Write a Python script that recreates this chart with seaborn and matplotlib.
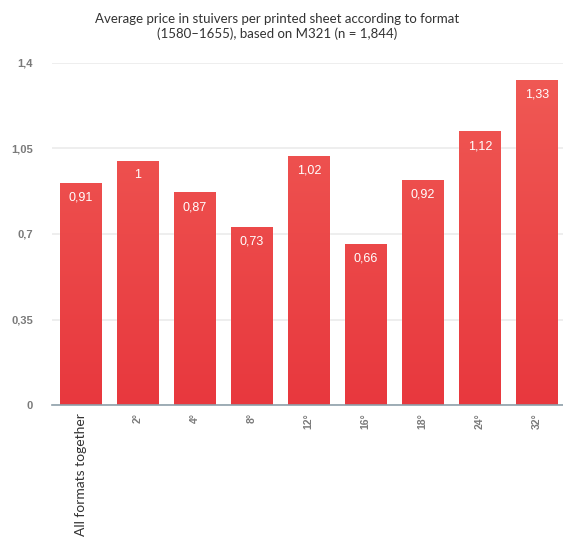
import numpy as np
import pandas as pd
import seaborn as sns
import matplotlib
matplotlib.use("Agg")
import matplotlib.pyplot as plt
from matplotlib.colors import LinearSegmentedColormap

categories = ["All formats together", "2°", "4°", "8°", "12°", "16°", "18°", "24°", "32°"]
values = [0.91, 1.00, 0.87, 0.73, 1.02, 0.66, 0.92, 1.12, 1.33]
value_labels = ["0,91", "1", "0,87", "0,73", "1,02", "0,66", "0,92", "1,12", "1,33"]
yticks = [0, 0.35, 0.7, 1.05, 1.4]
ytick_labels = ["0", "0,35", "0,7", "1,05", "1,4"]
title = "Average price in stuivers per printed sheet according to format\n(1580\u20131655), based on M321 (n = 1,844)"

sns.set_theme(style="white")
fig = plt.figure(figsize=(5.63, 5.37), dpi=100)
ax = fig.add_axes([0.093, 0.2458, 0.907, 0.6369])

df = pd.DataFrame({"format": categories, "price": values})
sns.barplot(data=df, x="format", y="price", ax=ax, color="#ec4a4a", width=0.72,
            saturation=1, zorder=3)

XLIM = (-0.5, 8.46)

# gradient fill on bars
cmap = LinearSegmentedColormap.from_list("g", ["#e8383e", "#f05a55"])
grad = np.linspace(0, 1, 256).reshape(-1, 1)
for p in ax.patches:
    x0 = p.get_x()
    w = p.get_width()
    im = ax.imshow(grad, extent=[x0, x0 + w, 0, 1.4], origin="lower", cmap=cmap,
                   aspect="auto", zorder=3.5, vmin=0, vmax=1)
    im.set_clip_path(p)
    p.set_facecolor("none")
ax.set_xlim(*XLIM)
ax.set_ylim(0, 1.4)

for i, (v, lab) in enumerate(zip(values, value_labels)):
    ax.text(i, v - 0.06, lab, ha="center", va="center", color="white",
            fontsize=9, family="Liberation Sans", zorder=5)

ax.set_yticks(yticks)
ax.set_yticklabels(ytick_labels, color="#7a7a7a", fontsize=8, family="Liberation Sans",
                   fontweight="bold")
ax.tick_params(axis="y", length=0, pad=14)
ax.tick_params(axis="x", length=0, pad=6)
ax.set_xticks(range(len(categories)))
ax.set_xticklabels(categories, rotation=90)
for i, t in enumerate(ax.get_xticklabels()):
    if i == 0:
        t.set_fontsize(10)
        t.set_color("#333333")
        t.set_family("Lato")
        t.set_fontweight("normal")
    else:
        t.set_fontsize(7.5)
        t.set_color("#7a7a7a")
        t.set_family("Liberation Sans")
        t.set_fontweight("bold")

ax.grid(axis="y", color="#ebebeb", linewidth=1.2, zorder=0)
ax.set_axisbelow(True)
for s in ["top", "right", "left"]:
    ax.spines[s].set_visible(False)
ax.spines["bottom"].set_color("#8fa0aa")
ax.spines["bottom"].set_linewidth(1.2)
ax.spines["bottom"].set_zorder(6)
ax.set_xlabel("")
ax.set_ylabel("")

fig.text(0.492, 0.95, title, ha="center", va="center", fontsize=9.5,
         family="Lato", fontweight="normal", color="#333333", linespacing=1.25)

fig.savefig("out.png", dpi=100)
